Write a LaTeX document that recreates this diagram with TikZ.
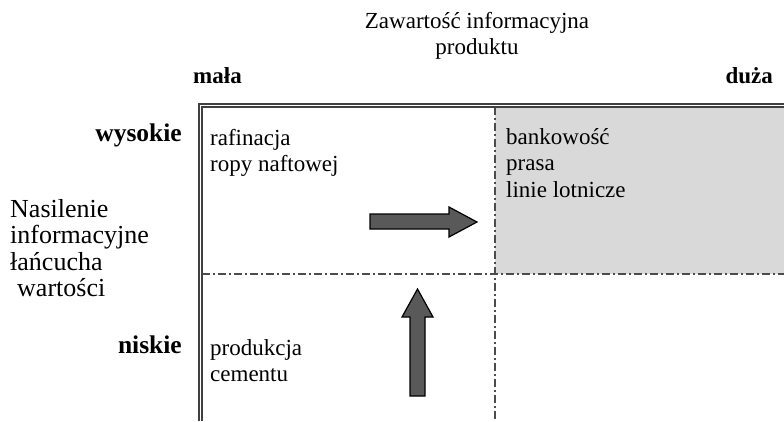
\documentclass[tikz,border=0pt]{standalone}
\usepackage{fontspec}
\setmainfont{Liberation Serif}
\begin{document}
\begin{tikzpicture}[x=1pt,y=-1pt,
  txt/.style={inner sep=0pt,font=\fontsize{23}{27}\selectfont},
  big/.style={inner sep=0pt,font=\fontsize{26}{27}\selectfont},
  bld/.style={inner sep=0pt,font=\fontsize{23}{27}\selectfont\bfseries},
  rowlbl/.style={inner sep=0pt,font=\fontsize{25.5}{27}\selectfont\bfseries},
  frame/.style={draw=black!75,line width=1.3pt},
  divider/.style={draw=black!70,line width=1.2pt,dash pattern=on 8pt off 3pt on 2pt off 3pt},
  fatarrow/.style={draw=black,fill=black!65,line width=1.2pt,line join=miter}]
\useasboundingbox (0,0) rectangle (784,421);
% grey quadrant
\fill[black!15] (495,107) rectangle (784,274);
% dividers
\draw[divider] (495,107) -- (495,421);
\draw[divider] (202,274) -- (784,274);
% double frame
\draw[frame] (199,421) -- (199,104) -- (784,104);
\draw[frame] (202,421) -- (202,107) -- (784,107);
% arrows
\draw[fatarrow] (370,214) -- (449,214) -- (449,207) -- (477,222) -- (449,237) -- (449,229) -- (370,229) -- cycle;
\draw[fatarrow] (410,396) -- (410,317) -- (402,317) -- (417.5,289) -- (433,317) -- (425,317) -- (425,396) -- cycle;
% title
\node[txt,anchor=base] (t1) at (477,28) {Zawartość informacyjna};
\node[txt,anchor=base] (t2) at (477,54) {produktu};
\node[bld,anchor=base west] (mala) at (193,83) {mała};
\node[bld,anchor=base east] (duza) at (773,83) {duża};
% row labels
\node[rowlbl,anchor=base east] (wys) at (182,141) {wysokie};
\node[rowlbl,anchor=base east] (nis) at (182,353) {niskie};
\node[big,anchor=base west] (n1) at (10,217) {Nasilenie};
\node[big,anchor=base west] (n2) at (10,243) {informacyjne};
\node[big,anchor=base west] (n3) at (10,270) {łańcucha};
\node[big,anchor=base west] (n4) at (17,296) {wartości};
% quadrant texts
\node[txt,anchor=base west] (r1) at (210,145) {rafinacja};
\node[txt,anchor=base west] (r2) at (210,171) {ropy naftowej};
\node[txt,anchor=base west] (b1) at (506,144) {bankowość};
\node[txt,anchor=base west] (b2) at (506,170) {prasa};
\node[txt,anchor=base west] (b3) at (506,197) {linie lotnicze};
\node[txt,anchor=base west] (p1) at (210,355) {produkcja};
\node[txt,anchor=base west] (p2) at (210,381) {cementu};
\end{tikzpicture}
\end{document}
